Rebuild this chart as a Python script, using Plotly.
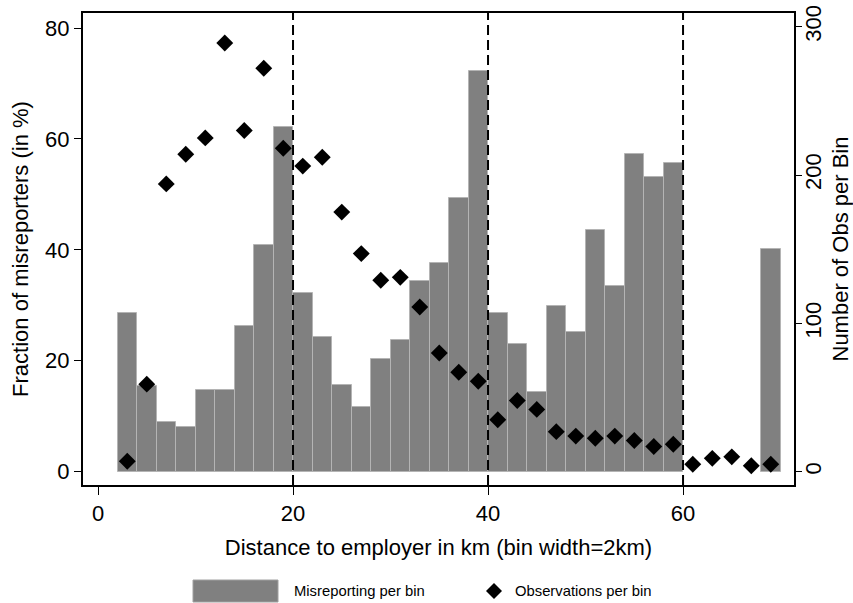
import plotly.graph_objects as go

# Bin centres (2 km bins)
bin_centers = [3, 5, 7, 9, 11, 13, 15, 17, 19, 21, 23, 25, 27, 29, 31, 33, 35,
               37, 39, 41, 43, 45, 47, 49, 51, 53, 55, 57, 59, 61, 63, 65, 67, 69]

# Share of misreporters per bin (in %)
misreport_pct = [28.7, 15.4, 8.9, 8.1, 14.8, 14.7, 26.2, 40.8, 62.1, 32.2, 24.2,
                 15.6, 11.7, 20.3, 23.8, 34.4, 37.7, 49.4, 72.3, 28.7, 23.1, 14.4,
                 29.8, 25.2, 43.6, 33.5, 57.2, 53.1, 55.7, None, None, None, None, 40.2]

# Number of observations per bin
obs_per_bin = [7, 59, 194, 214, 225, 289, 230, 272, 218, 206, 212,
               175, 147, 129, 131, 111, 80, 67, 61, 35, 48, 42,
               27, 24, 22.5, 24, 21, 17, 18.5, 5, 9, 10, 4, 5]

cutoffs = [20, 40, 60]
x_ticks = [0, 20, 40, 60]
y_ticks = [0, 20, 40, 60, 80]
y2_ticks = [0, 100, 200, 300]

FONT = "Liberation Sans, Arial, sans-serif"

fig = go.Figure()

fig.add_trace(go.Bar(
    x=bin_centers, y=misreport_pct, width=2,
    marker=dict(color="#808080", line=dict(color="#b4b4b4", width=1)),
    name="Misreporting per bin", showlegend=False,
))

fig.add_trace(go.Scatter(
    x=bin_centers, y=obs_per_bin, yaxis="y2", mode="markers",
    marker=dict(symbol="diamond", size=13, color="black"),
    name="Observations per bin", showlegend=False,
))

shapes = []
for c in cutoffs:
    shapes.append(dict(type="line", xref="x", yref="paper", x0=c, x1=c, y0=0, y1=1,
                       line=dict(color="black", width=2, dash="10px,5px")))

# Legend drawn below the axis title
shapes.append(dict(type="rect", xref="paper", yref="paper",
                   x0=(193 - 83) / 711, x1=(278 - 83) / 711,
                   y0=-(602 - 485) / 472, y1=-(580 - 485) / 472,
                   fillcolor="#808080", line=dict(color="#a0a0a0", width=1)))
dx, dy = 8 / 711, 8 / 472
cx, cy = (494 - 83) / 711, -(591 - 485) / 472
shapes.append(dict(type="path", xref="paper", yref="paper",
                   path=f"M {cx - dx},{cy} L {cx},{cy + dy} L {cx + dx},{cy} L {cx},{cy - dy} Z",
                   fillcolor="black", line=dict(color="black", width=0)))

annotations = [
    dict(text="Misreporting per bin", xref="paper", yref="paper",
         x=(292 - 83) / 711, y=-(591 - 485) / 472, xanchor="left", yanchor="middle",
         showarrow=False, font=dict(family=FONT, size=14.8, color="black")),
    dict(text="Observations per bin", xref="paper", yref="paper",
         x=(513 - 83) / 711, y=-(591 - 485) / 472, xanchor="left", yanchor="middle",
         showarrow=False, font=dict(family=FONT, size=14.8, color="black")),
]

fig.update_layout(
    width=853, height=603,
    margin=dict(l=83, r=59, t=13, b=118),
    paper_bgcolor="white", plot_bgcolor="white",
    font=dict(family=FONT, size=22, color="black"),
    bargap=0,
    shapes=shapes, annotations=annotations,
    xaxis=dict(range=[-1.54, 71.38], tickvals=x_ticks, ticks="outside", ticklen=8,
               tickwidth=1, tickcolor="black", showgrid=False, zeroline=False,
               showline=True, linecolor="black", linewidth=2, mirror=True,
               tickfont=dict(size=22), automargin=False,
               title=dict(text="Distance to employer in km (bin width=2km)",
                          font=dict(size=22), standoff=14)),
    yaxis=dict(range=[-2.40, 82.71], tickvals=y_ticks, ticks="outside", ticklen=7,
               tickwidth=1, tickcolor="black", showgrid=False, zeroline=False,
               showline=True, linecolor="black", linewidth=2, mirror=True,
               tickfont=dict(size=22), automargin=False,
               title=dict(text="Fraction of misreporters (in %)", font=dict(size=22),
                          standoff=10)),
    yaxis2=dict(range=[-8.97, 309.2], tickvals=y2_ticks, overlaying="y", side="right",
                ticks="outside", ticklen=7, tickwidth=1, tickcolor="black",
                tickangle=-90, ticklabelstandoff=-7, showgrid=False, zeroline=False,
                showline=False, tickfont=dict(size=22), automargin=False,
                title=dict(text="Number of Obs per Bin", font=dict(size=22), standoff=8)),
)

fig.write_html("out.html")
